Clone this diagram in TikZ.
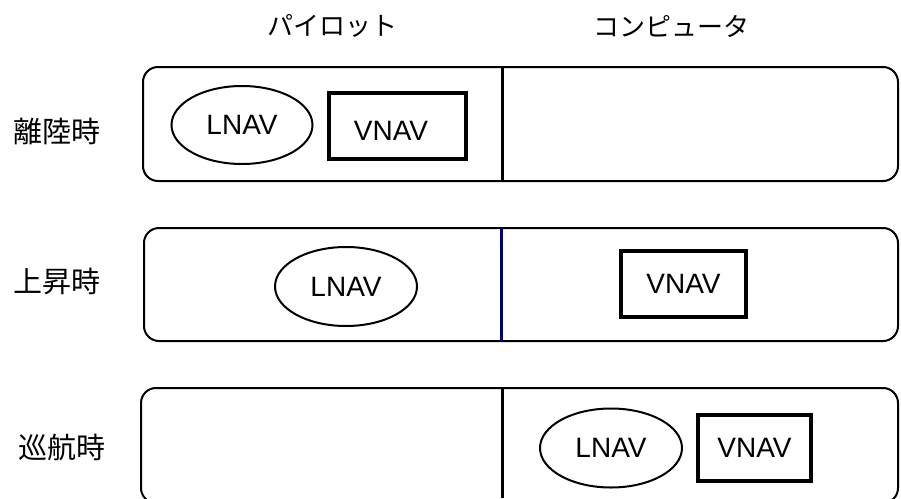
\documentclass[tikz,border=0pt]{standalone}
\usepackage{fontspec}
\setmainfont{Liberation Sans}
\newfontfamily\jp{Noto Sans CJK JP}
\usetikzlibrary{shapes.geometric}
\definecolor{navyline}{RGB}{0,0,110}
\tikzset{
  rowbox/.style={draw, line width=2pt, rounded corners=15pt},
  divider/.style={line width=3pt},
  lnav/.style={draw, ellipse, line width=2pt, minimum width=141pt, minimum height=78pt, inner sep=0pt, font=\fontsize{28}{32}\selectfont},
  vnav/.style={draw, rectangle, line width=4.5pt, inner sep=0pt, font=\fontsize{28}{32}\selectfont},
  vtext/.style={inner sep=0pt, font=\fontsize{28}{32}\selectfont},
  rowlabel/.style={inner sep=0pt, font=\jp\fontsize{29}{32}\selectfont},
  header/.style={inner sep=0pt, font=\jp\fontsize{26}{30}\selectfont},
}
\begin{document}
\begin{tikzpicture}[x=1pt,y=-1pt]
\useasboundingbox (0,0) rectangle (901,498);
\clip (0,0) rectangle (901,498);

% headers
\node[header] (hpilot) at (332,26) {パイロット};
\node[header] (hcomp) at (671,26) {コンピュータ};

% row labels
\node[rowlabel] (l1) at (57,131) {離陸時};
\node[rowlabel] (l2) at (57,281) {上昇時};
\node[rowlabel] (l3) at (62,447) {巡航時};

% row 1
\draw[rowbox] (143,67) rectangle (898,181);
\coordinate (d1t) at (502,67);
\coordinate (d1b) at (502,181);
\draw[divider] (d1t) -- (d1b);
\node[lnav] (lnav1) at (242,125) {LNAV};
\node[vnav, minimum width=137pt, minimum height=66pt] (vnav1) at (397.5,126) {};
\node[vtext] (vnav1t) at (391,131) {VNAV};

% row 2
\draw[rowbox] (144,228) rectangle (898,341);
\coordinate (d2t) at (501,228);
\coordinate (d2b) at (501,341);
\draw[divider, navyline] (d2t) -- (d2b);
\node[lnav, minimum width=142pt, minimum height=79pt] (lnav2) at (346,286.5) {LNAV};
\node[vnav, minimum width=125pt, minimum height=66pt] (vnav2) at (683.5,284) {VNAV};

% row 3
\draw[rowbox] (141,388) rectangle (898,503);
\coordinate (d3t) at (502,388);
\coordinate (d3b) at (502,498);
\draw[divider] (d3t) -- (d3b);
\node[lnav, minimum width=142pt, minimum height=79pt] (lnav3) at (611,448) {LNAV};
\node[vnav, minimum width=113pt, minimum height=66pt] (vnav3) at (754.5,448) {VNAV};
\end{tikzpicture}
\end{document}
